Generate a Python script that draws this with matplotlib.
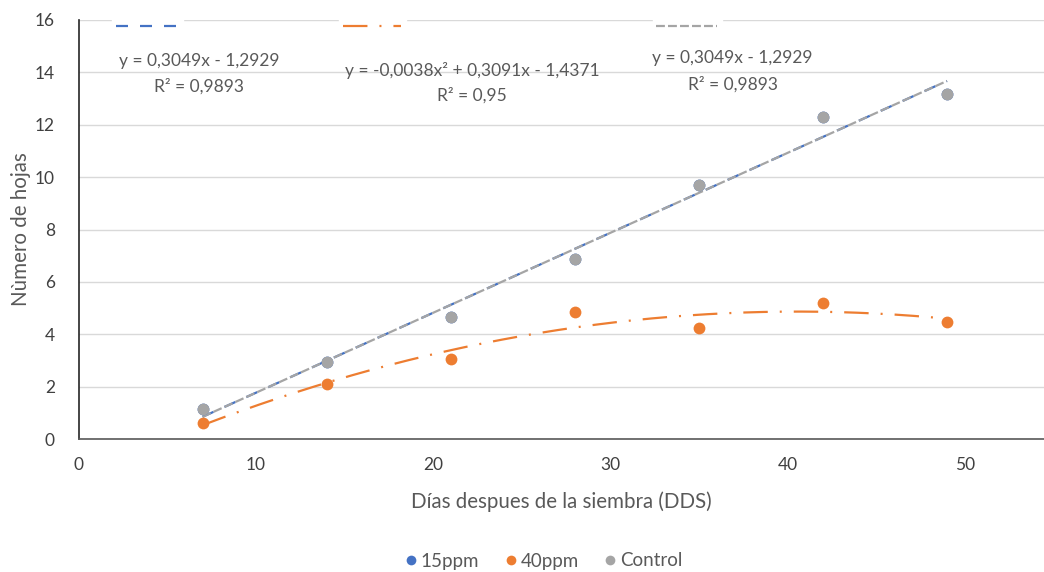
import numpy as np
import matplotlib
matplotlib.use("Agg")
import matplotlib.pyplot as plt
from matplotlib.lines import Line2D

# ---- data ----
dias = [7, 14, 21, 28, 35, 42, 49]
ppm15 = [1.15, 2.95, 4.66, 6.88, 9.69, 12.3, 13.19]
ppm40 = [0.61, 2.10, 3.05, 4.86, 4.23, 5.19, 4.48]
control = [1.15, 2.95, 4.66, 6.88, 9.69, 12.3, 13.19]
series_names = ["15ppm", "40ppm", "Control"]
eq_15 = ["y = 0,3049x - 1,2929", "R² = 0,9893"]
eq_40 = ["y = -0,0038x² + 0,3091x - 1,4371", "R² = 0,95"]
eq_ctrl = ["y = 0,3049x - 1,2929", "R² = 0,9893"]
x_ticks = [0, 10, 20, 30, 40, 50]
y_ticks = [0, 2, 4, 6, 8, 10, 12, 14, 16]

BLUE = "#4472C4"
ORANGE = "#ED7D31"
GRAY = "#A5A5A5"
TXT = "#595959"

plt.rcParams['font.family'] = ['Lato', 'DejaVu Sans']

fig = plt.figure(figsize=(10.44, 5.72), dpi=100)
ax = fig.add_axes([78.5 / 1044, 133 / 572, 1 - 78.5 / 1044, 419 / 572])

x = np.array(dias, dtype=float)
xs = np.linspace(min(dias), max(dias), 200)

# trendlines
c15 = np.polyfit(x, ppm15, 1)
c40 = np.polyfit(x, ppm40, 2)
cct = np.polyfit(x, control, 1)
lw = 1.6
D_BLUE = (5.4, 5.4)
D_ORANGE = (11, 5.4, 0.9, 5.4)
D_GRAY = (4.0, 1.4)
ax.plot(xs, np.polyval(c15, xs), color=BLUE, lw=lw, dashes=D_BLUE, zorder=3)
ax.plot(xs, np.polyval(c40, xs), color=ORANGE, lw=lw, dashes=D_ORANGE, zorder=3)
ax.plot(xs, np.polyval(cct, xs), color=GRAY, lw=lw, dashes=D_GRAY, zorder=4)

# points
ax.plot(dias, ppm15, 'o', color=BLUE, ms=8.5, mew=0, zorder=5)
ax.plot(dias, ppm40, 'o', color=ORANGE, ms=8.5, mew=0, zorder=6)
ax.plot(dias, control, 'o', color=GRAY, ms=8.5, mew=0, zorder=7)

ax.set_xlim(0, (1044 - 78.5) / 17.725)
ax.set_ylim(0, 16)
ax.set_xticks(x_ticks)
ax.set_yticks(y_ticks)
ax.grid(axis='y', color='#D9D9D9', lw=1.0, zorder=0)
ax.set_axisbelow(True)
for s in ['top', 'right']:
    ax.spines[s].set_visible(False)
ax.spines['left'].set_color('#262626')
ax.spines['left'].set_linewidth(1.2)
ax.spines['bottom'].set_color('#595959')
ax.spines['bottom'].set_linewidth(1.2)
ax.tick_params(axis='both', length=0, labelsize=12.5, colors=TXT, labelcolor='#404040')
ax.tick_params(axis='x', pad=13)
ax.tick_params(axis='y', pad=17)

ax.set_xlabel("Días despues de la siembra (DDS)", fontsize=14.8, color=TXT, labelpad=13)
ax.set_ylabel("Nùmero de hojas", fontsize=14.8, color=TXT, labelpad=3)

# trendline legend keys along top
for (x0, x1), col, dsh in [((2.1, 5.6), BLUE, D_BLUE),
                           ((14.9, 18.2), ORANGE, D_ORANGE),
                           ((32.6, 36.0), GRAY, D_GRAY)]:
    ax.fill_between([x0 - 0.2, x1 + 0.3], 15.55, 16.1, color='white', zorder=1, clip_on=False)
    ax.plot([x0, x1], [15.78, 15.78], color=col, lw=lw, dashes=dsh, zorder=2, clip_on=False)

# equation labels
for (xc, y1, y2), lines in [((6.8, 14.45, 13.45), eq_15),
                            ((22.2, 14.08, 13.13), eq_40),
                            ((36.9, 14.55, 13.55), eq_ctrl)]:
    ax.text(xc, y1, lines[0], ha='center', va='center', fontsize=12.5, color=TXT, zorder=8)
    ax.text(xc, y2, lines[1], ha='center', va='center', fontsize=12.5, color=TXT, zorder=8)

handles = [Line2D([], [], ls='none', marker='o', ms=7, mew=0, color=c) for c in (BLUE, ORANGE, GRAY)]
fig.legend(handles, series_names, loc='center', bbox_to_anchor=(542 / 1044, 1 - 561 / 572),
           ncol=3, frameon=False, fontsize=13.5, handletextpad=0.0, columnspacing=1.2,
           labelcolor=TXT, handlelength=1.0)

fig.savefig("out.png", dpi=100)
